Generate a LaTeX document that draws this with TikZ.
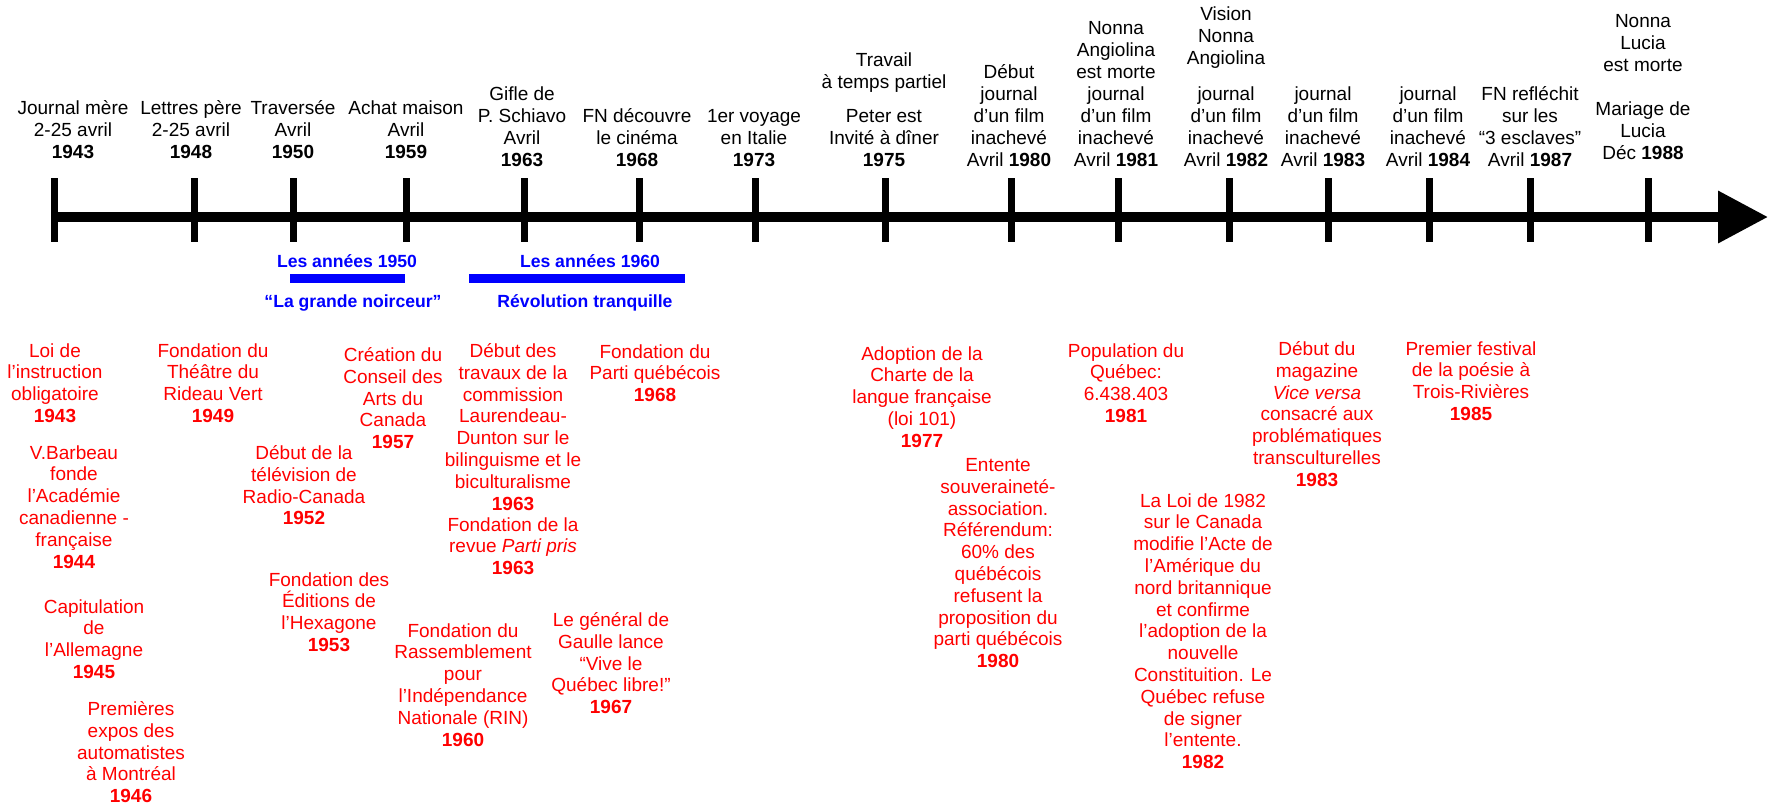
\documentclass[tikz,border=0pt]{standalone}
\usepackage{fontspec}
\setmainfont{Liberation Sans}
\usetikzlibrary{arrows.meta}

\begin{document}
\begin{tikzpicture}[x=0.5pt,y=-0.5pt,
	evt/.style={align=center, inner sep=0pt, anchor=south, font=\fontsize{9.5}{11}\selectfont},
	qc/.style={align=center, inner sep=0pt, anchor=north, text=red, font=\fontsize{9.5}{10.9}\selectfont},
	era/.style={inner sep=0pt, anchor=base, text=blue, font=\fontsize{8.8}{10}\selectfont\bfseries},
	erabar/.style={draw=blue, line width=4.5pt},
	tick/.style={line width=3.5pt}]
	\useasboundingbox (0,0) rectangle (1771,805);

	% la ligne du temps
	\coordinate (debut) at (54,217);
	\coordinate (fin) at (1768,217);
	\draw[line width=5pt, -{Triangle[length=25pt,width=25pt]}] (debut) -- (fin);
	\foreach \x in {54,194,293,406,524,639,755,885,1011,1118,1229,1328,1429,1530,1648}
		\draw[tick] (\x,178) -- (\x,242);

	% evenements du film
	\node[evt] (t43) at (73,159) {Journal mère\\2-25 avril\\\textbf{1943}};
	\node[evt] (t48) at (191,159) {Lettres père\\2-25 avril\\\textbf{1948}};
	\node[evt] (t50) at (293,159) {Traversée\\Avril\\\textbf{1950}};
	\node[evt] (t59) at (406,159) {Achat maison\\Avril\\\textbf{1959}};
	\node[evt] (t63) at (522,167) {Gifle de\\P. Schiavo\\Avril\\\textbf{1963}};
	\node[evt] (t68) at (637,167) {FN découvre\\le cinéma\\\textbf{1968}};
	\node[evt] (t73) at (754,167) {1er voyage\\en Italie\\\textbf{1973}};
	\node[evt] (t75) at (884,167) {Travail\\à temps partiel\\[6pt]Peter est\\Invité à dîner\\\textbf{1975}};
	\node[evt] (t80) at (1009,167) {Début\\journal\\d’un film\\inachevé\\Avril \textbf{1980}};
	\node[evt] (t81) at (1116,167) {Nonna\\Angiolina\\est morte\\journal\\d’un film\\inachevé\\Avril \textbf{1981}};
	\node[evt] (t82) at (1226,167) {Vision\\Nonna\\Angiolina\\[7pt]journal\\d’un film\\inachevé\\Avril \textbf{1982}};
	\node[evt] (t83) at (1323,167) {journal\\d’un film\\inachevé\\Avril \textbf{1983}};
	\node[evt] (t84) at (1428,167) {journal\\d’un film\\inachevé\\Avril \textbf{1984}};
	\node[evt] (t87) at (1530,167) {FN refléchit\\sur les\\“3 esclaves”\\Avril \textbf{1987}};
	\node[evt] (t88) at (1643,160) {Nonna\\Lucia\\est morte\\[11pt]Mariage de\\Lucia\\Déc \textbf{1988}};

	% les annees 50 et 60
	\coordinate (b50a) at (290,278.5);
	\coordinate (b50b) at (405,278.5);
	\coordinate (b60a) at (469,278.5);
	\coordinate (b60b) at (685,278.5);
	\draw[erabar] (b50a) -- (b50b);
	\draw[erabar] (b60a) -- (b60b);
	\node[era] (e50) at (347,267) {Les années 1950};
	\node[era] (n50) at (353,307) {“La grande noirceur”};
	\node[era] (e60) at (590,267) {Les années 1960};
	\node[era] (n60) at (585,307) {Révolution tranquille};

	% histoire du Quebec
	\node[qc] (q43) at (55,343) {Loi de\\l’instruction\\obligatoire\\\textbf{1943}};
	\node[qc] (q44) at (74,445) {V.Barbeau\\fonde\\l’Académie\\canadienne -\\française\\\textbf{1944}};
	\node[qc] (q45) at (94,599) {Capitulation\\de\\l’Allemagne\\\textbf{1945}};
	\node[qc] (q46) at (131,701) {Premières\\expos des\\automatistes\\à Montréal\\\textbf{1946}};
	\node[qc] (q49) at (213,343) {Fondation du\\Théâtre du\\Rideau Vert\\\textbf{1949}};
	\node[qc] (q52) at (304,445) {Début de la\\télévision de\\Radio-Canada\\\textbf{1952}};
	\node[qc] (q53) at (329,572) {Fondation des\\Éditions de\\l’Hexagone\\\textbf{1953}};
	\node[qc] (q57) at (393,347) {Création du\\Conseil des\\Arts du\\Canada\\\textbf{1957}};
	\node[qc] (q60) at (463,623) {Fondation du\\Rassemblement\\pour\\l’Indépendance\\Nationale (RIN)\\\textbf{1960}};
	\node[qc] (q63) at (513,343) {Début des\\travaux de la\\commission\\Laurendeau-\\Dunton sur le\\bilinguisme et le\\biculturalisme\\\textbf{1963}};
	\node[qc] (q63b) at (513,517) {Fondation de la\\revue \textit{Parti pris}\\\textbf{1963}};
	\node[qc] (q67) at (611,612) {Le général de\\Gaulle lance\\“Vive le\\Québec libre!”\\\textbf{1967}};
	\node[qc] (q68) at (655,344) {Fondation du\\Parti québécois\\\textbf{1968}};
	\node[qc] (q77) at (922,346) {Adoption de la\\Charte de la\\langue française\\(loi 101)\\\textbf{1977}};
	\node[qc] (q80) at (998,458) {Entente\\souveraineté-\\association.\\Référendum:\\60\% des\\québécois\\refusent la\\proposition du\\parti québécois\\\textbf{1980}};
	\node[qc] (q81) at (1126,343) {Population du\\Québec:\\6.438.403\\\textbf{1981}};
	\node[qc] (q82) at (1203,493) {La Loi de 1982\\sur le Canada\\modifie l’Acte de\\l’Amérique du\\nord britannique\\et confirme\\l’adoption de la\\nouvelle\\Constituition. Le\\Québec refuse\\de signer\\l’entente.\\\textbf{1982}};
	\node[qc] (q83) at (1317,341) {Début du\\magazine\\\textit{Vice versa}\\consacré aux\\problématiques\\transculturelles\\\textbf{1983}};
	\node[qc] (q85) at (1471,341) {Premier festival\\de la poésie à\\Trois-Rivières\\\textbf{1985}};
\end{tikzpicture}
\end{document}
